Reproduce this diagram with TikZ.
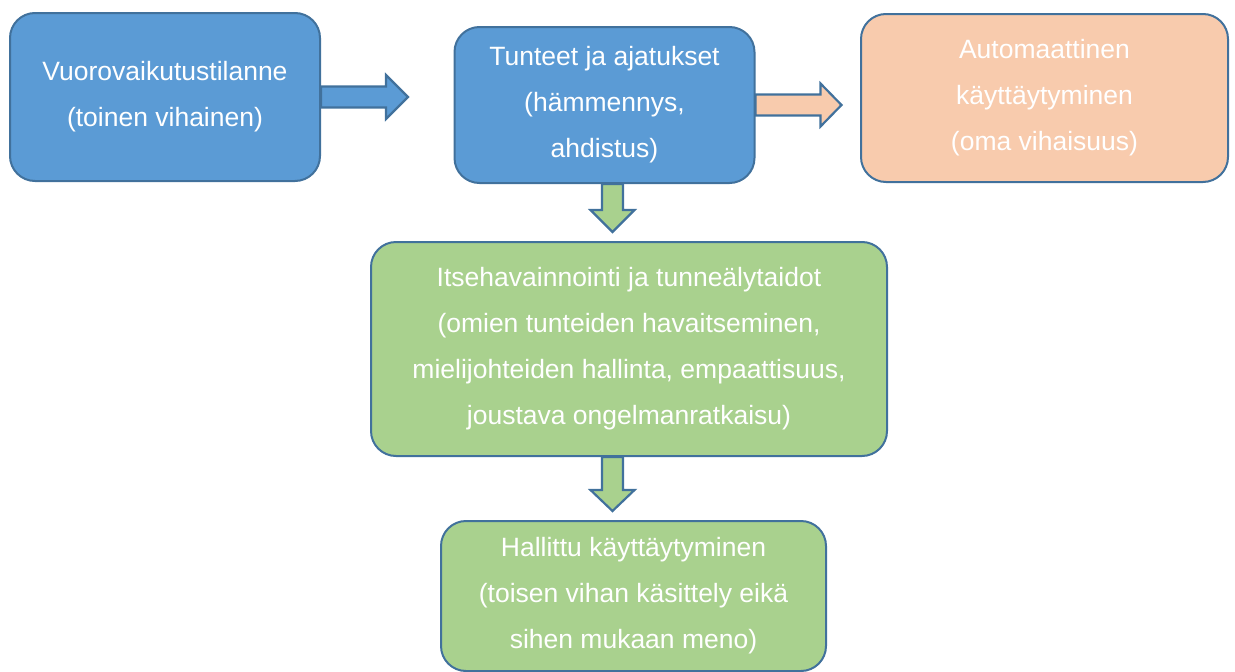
\documentclass[tikz,border=0pt]{standalone}
\usepackage{fontspec}
\setmainfont{Liberation Sans}
\usepackage{xcolor}
\usepackage{tikz}
\usetikzlibrary{positioning,calc}
\definecolor{boxblue}{RGB}{91,155,213}
\definecolor{boxorange}{RGB}{248,203,173}
\definecolor{boxgreen}{RGB}{169,209,142}
\definecolor{edgeblue}{RGB}{65,113,156}

\begin{document}
\begin{tikzpicture}[x=1pt, y=-1pt,
    box/.style={draw=edgeblue, line width=2pt, rounded corners=25pt, align=center,
        text=white, font=\fontsize{26.5}{46}\selectfont, inner sep=0pt},
    arrowline/.style={draw=edgeblue, line width=2.2pt, line join=miter}]
        \useasboundingbox (0,0) rectangle (1235,672);
        % Boxes
        \node[box, fill=boxblue, minimum width=310pt, minimum height=168pt] (vuoro) at (165,97)
            {Vuorovaikutustilanne\\(toinen vihainen)};
        \node[box, fill=boxblue, minimum width=300pt, minimum height=156pt] (tunteet) at (604.5,105)
            {Tunteet ja ajatukset\\(hämmennys,\\ahdistus)};
        \node[box, fill=boxorange, minimum width=367pt, minimum height=168pt] (automaatti) at (1044.5,98)
            {Automaattinen\\käyttäytyminen\\(oma vihaisuus)};
        \node[box, fill=boxgreen, minimum width=516pt, minimum height=214pt] (itse) at (629,349)
            {Itsehavainnointi ja tunneälytaidot\\(omien tunteiden havaitseminen,\\mielijohteiden hallinta, empaattisuus,\\joustava ongelmanratkaisu)};
        \node[box, fill=boxgreen, minimum width=385pt, minimum height=150pt] (hallittu) at (633.5,596)
            {Hallittu käyttäytyminen\\(toisen vihan käsittely eikä\\sihen mukaan meno)};
        % Block arrows
        \draw[arrowline, fill=boxblue, shift={(vuoro.east)}]
            (0,-10.5) -- (65,-10.5) -- (65,-22) -- (87,0) -- (65,22) -- (65,10.5) -- (0,10.5) -- cycle;
        \draw[arrowline, fill=boxorange, shift={(tunteet.east)}]
            (0,-10.5) -- (65,-10.5) -- (65,-21.5) -- (86,0) -- (65,21.5) -- (65,10.5) -- (0,10.5) -- cycle;
        \draw[arrowline, fill=boxgreen, shift={($(tunteet.south)+(8,0)$)}]
            (-10.5,0) -- (-10.5,26) -- (-22,26) -- (0,48) -- (22,26) -- (10.5,26) -- (10.5,0) -- cycle;
        \draw[arrowline, fill=boxgreen, shift={($(itse.south)+(-16.5,0)$)}]
            (-10.5,0) -- (-10.5,33) -- (-22,33) -- (0,54) -- (22,33) -- (10.5,33) -- (10.5,0) -- cycle;
    \end{tikzpicture}
\end{document}
